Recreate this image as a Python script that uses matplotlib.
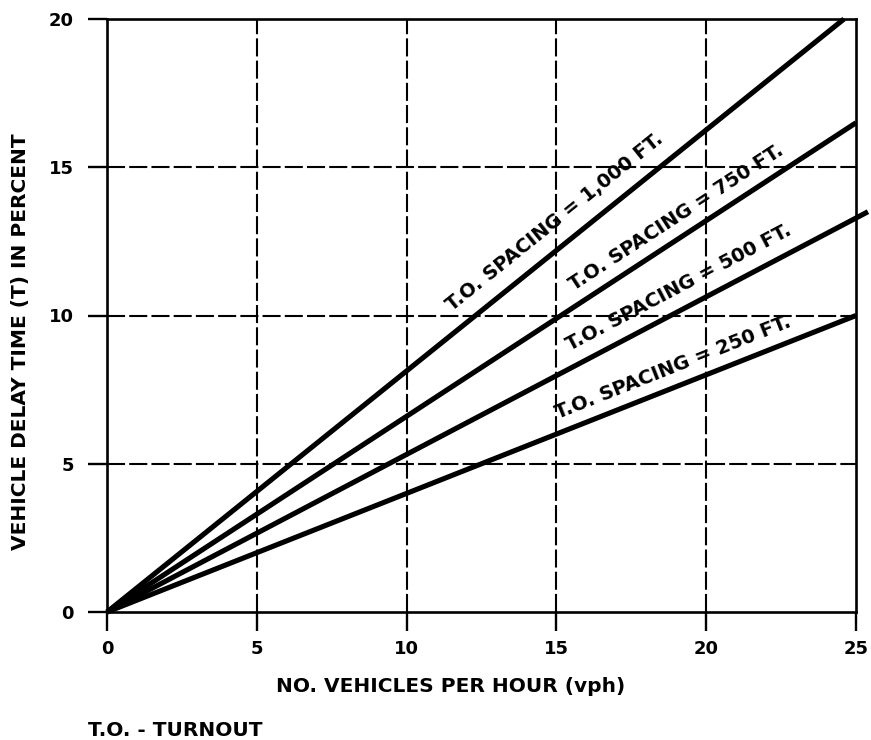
import matplotlib.pyplot as plt
import numpy as np

plt.rcParams['font.family'] = ['DejaVu Sans']
plt.rcParams['font.weight'] = 'bold'
plt.rcParams['lines.scale_dashes'] = False

# straight lines from origin, end points
spacing = ["250", "500", "750", "1,000"]
x_end = [25.0, 25.4, 25.0, 24.6]
y_end = [10.0, 13.5, 16.5, 20.0]

# label centre positions (data coords)
lab_x = [18.9, 19.1, 19.0, 14.95]
lab_y = [8.25, 10.95, 13.3, 13.15]

xticks = [0, 5, 10, 15, 20, 25]
yticks = [0, 5, 10, 15, 20]

fig = plt.figure(figsize=(8.71, 7.4), dpi=100)
ax = fig.add_axes([107/871, 1-612/740, (856-107)/871, (612-19)/740])

ax.set_xlim(0, 25)
ax.set_ylim(0, 20)

grid_ls = (0, (13, 3))
for v in [5, 10, 15, 20]:
    ax.axvline(v, color='black', lw=1.5, ls=grid_ls, zorder=1)
for v in [5, 10, 15]:
    ax.axhline(v, color='black', lw=1.5, ls=grid_ls, zorder=1)

for i in range(len(spacing)):
    ax.plot([0, x_end[i]], [0, y_end[i]], color='black', lw=3.7,
            solid_capstyle='butt', clip_on=False, zorder=3)
    ang = np.degrees(np.arctan2(y_end[i], x_end[i]))
    ax.text(lab_x[i], lab_y[i], "T.O. SPACING = " + spacing[i] + " FT.",
            rotation=ang, rotation_mode='anchor', transform_rotates_text=True,
            ha='center', va='center', fontsize=14, fontweight='bold', zorder=4)

for s in ax.spines.values():
    s.set_linewidth(1.9)

ax.set_xticks(xticks)
ax.set_yticks(yticks)
ax.tick_params(direction='out', length=14, width=1.7, labelsize=13, pad=6)
ax.tick_params(axis='y', pad=10)

ax.set_xlabel("NO. VEHICLES PER HOUR (vph)", fontsize=14.5, fontweight='bold', va='center')
ax.xaxis.set_label_coords(0.459, -0.126)
ax.set_ylabel("VEHICLE DELAY TIME (T) IN PERCENT", fontsize=14.5, fontweight='bold', va='center')
ax.yaxis.set_label_coords(-0.116, 0.455)

fig.text(88/871, 1-736/740, "T.O. - TURNOUT", fontsize=14.5, fontweight='bold',
         ha='left', va='baseline')

fig.savefig('out.png', dpi=100)
